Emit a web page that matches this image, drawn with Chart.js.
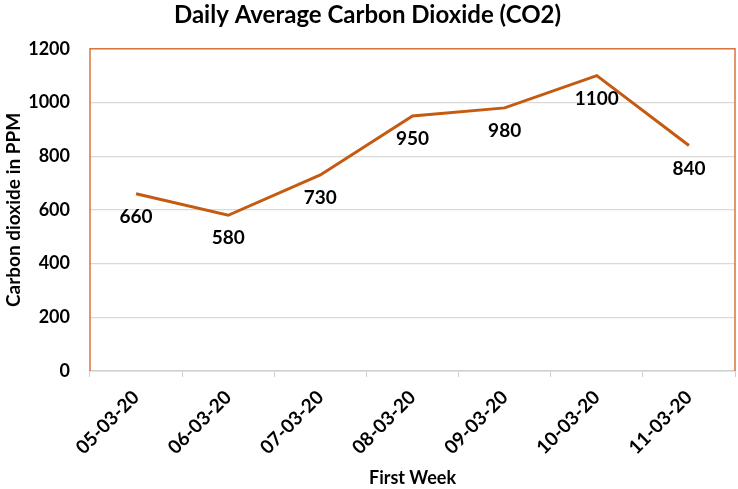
<!DOCTYPE html>
<html>
<head>
<meta charset="utf-8">
<script src="https://cdn.jsdelivr.net/npm/chart.js@4"></script>
<style>
  html, body { margin: 0; padding: 0; background: #fff; }
  #wrap { width: 738px; height: 489px; }
</style>
</head>
<body>
<div id="wrap"><canvas id="c"></canvas></div>
<script>
// data
const days = ["05-03-20", "06-03-20", "07-03-20", "08-03-20", "09-03-20", "10-03-20", "11-03-20"];
const co2 = [660, 580, 730, 950, 980, 1100, 840];
const yTicks = [0, 200, 400, 600, 800, 1000, 1200];

const FONT = "Lato, 'Open Sans', sans-serif";
const LINE = "#c55a11";
const FRAME = "#d9743f";

// value labels under each point
const valueLabels = {
  id: "valueLabels",
  afterDatasetsDraw(chart) {
    const ctx = chart.ctx;
    const meta = chart.getDatasetMeta(0);
    ctx.save();
    ctx.font = "bold 19px " + FONT;
    ctx.fillStyle = "#000";
    ctx.textAlign = "center";
    ctx.textBaseline = "middle";
    meta.data.forEach((pt, i) => {
      ctx.fillText(String(co2[i]), pt.x, pt.y + 23);
    });
    ctx.restore();
  }
};

// orange frame on left, top, right of the plot
const frame = {
  id: "frame",
  afterDraw(chart) {
    const a = chart.chartArea, ctx = chart.ctx;
    ctx.save();
    ctx.strokeStyle = FRAME;
    ctx.lineWidth = 1.5;
    ctx.beginPath();
    ctx.moveTo(a.left, a.bottom);
    ctx.lineTo(a.left, a.top);
    ctx.lineTo(a.right, a.top);
    ctx.lineTo(a.right, a.bottom);
    ctx.stroke();
    ctx.restore();
  }
};

new Chart(document.getElementById("c"), {
  type: "line",
  data: {
    labels: days,
    datasets: [{
      data: co2,
      borderColor: LINE,
      borderWidth: 3,
      pointRadius: 0,
      tension: 0,
      fill: false
    }]
  },
  options: {
    responsive: true,
    maintainAspectRatio: false,
    animation: false,
    layout: { padding: { left: 0, right: 3, top: 0, bottom: 0 } },
    plugins: {
      legend: { display: false },
      tooltip: { enabled: false },
      title: {
        display: true,
        text: "Daily Average Carbon Dioxide (CO2)",
        color: "#000",
        font: { family: FONT, size: 24, weight: "bold" },
        padding: { top: 1, bottom: 19 }
      }
    },
    scales: {
      x: {
        offset: true,
        afterFit: axis => { axis.height = 118; },
        grid: { offset: true, drawOnChartArea: false, drawTicks: true, tickLength: 6, color: "#d0d0d0" },
        border: { color: "#d0d0d0", width: 1.5 },
        ticks: {
          color: "#000",
          font: { family: FONT, size: 19, weight: "bold" },
          maxRotation: 45,
          minRotation: 45,
          padding: 9
        },
        title: {
          display: true,
          text: "First Week",
          color: "#000",
          font: { family: FONT, size: 18, weight: "bold" },
          padding: { top: 4, bottom: 0 }
        }
      },
      y: {
        min: 0,
        max: 1200,
        afterFit: axis => { axis.width = 90; },
        afterBuildTicks: axis => { axis.ticks = yTicks.map(v => ({ value: v })); },
        grid: { color: "#d9d9d9", lineWidth: 1.2, drawTicks: false },
        border: { display: false },
        ticks: {
          color: "#000",
          font: { family: FONT, size: 18, weight: "bold" },
          padding: 20,
          callback: v => String(v)
        },
        title: {
          display: true,
          text: "Carbon dioxide in PPM",
          color: "#000",
          font: { family: FONT, size: 19, weight: "bold" },
          padding: { top: 2, bottom: 6 }
        }
      }
    }
  },
  plugins: [valueLabels, frame]
});
</script>
</body>
</html>
